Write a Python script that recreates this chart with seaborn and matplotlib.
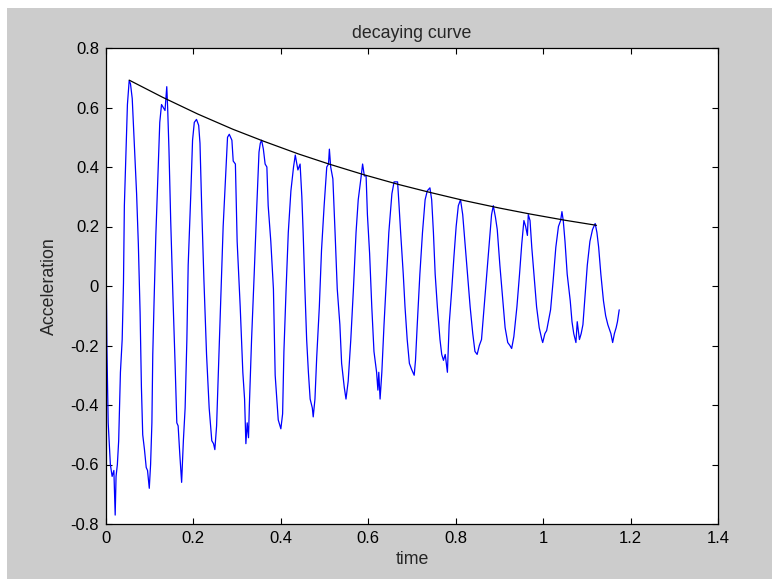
import matplotlib
matplotlib.use("Agg")
import matplotlib.pyplot as plt
from matplotlib.patches import Rectangle
import numpy as np
import pandas as pd
import seaborn as sns

# ---------------- data ----------------
sig_t = [
    0.000, 0.002, 0.005, 0.010, 0.014, 0.018, 0.021, 0.023, 0.026, 0.029, 0.033, 0.037, 0.040, 0.042, 0.046, 0.049, 0.053,
    0.056, 0.060, 0.065, 0.070, 0.074, 0.078, 0.081, 0.084, 0.088, 0.092, 0.095, 0.099,
    0.102, 0.105, 0.107, 0.110, 0.114, 0.119, 0.123, 0.127, 0.131, 0.135, 0.139, 0.141, 0.144, 0.148,
    0.153, 0.158, 0.162, 0.165, 0.169, 0.173,
    0.177, 0.181, 0.185, 0.188, 0.194, 0.198, 0.202, 0.207, 0.212, 0.215, 0.219, 0.224, 0.230, 0.236, 0.242, 0.246, 0.249,
    0.253, 0.257, 0.262, 0.268, 0.275, 0.278, 0.282, 0.288, 0.291, 0.296, 0.300, 0.307, 0.313, 0.317, 0.320, 0.323, 0.326, 0.328,
    0.333, 0.339, 0.345, 0.350, 0.353, 0.356, 0.360, 0.364, 0.368, 0.371, 0.377, 0.383, 0.387, 0.394, 0.400,
    0.404, 0.407, 0.412, 0.417, 0.423, 0.429, 0.433, 0.439, 0.444, 0.448, 0.451, 0.455, 0.459, 0.463, 0.467, 0.472, 0.474,
    0.478, 0.482, 0.488, 0.493, 0.499, 0.505, 0.509, 0.511, 0.514, 0.519, 0.524, 0.529, 0.535, 0.539, 0.545, 0.549,
    0.554, 0.560, 0.566, 0.572, 0.577, 0.583, 0.587, 0.591, 0.595, 0.598, 0.603, 0.608, 0.613, 0.619, 0.622, 0.624, 0.627,
    0.631, 0.636, 0.642, 0.647, 0.654, 0.659, 0.667, 0.670, 0.674, 0.680, 0.684, 0.689, 0.694, 0.699, 0.705,
    0.708, 0.712, 0.718, 0.724, 0.730, 0.735, 0.741, 0.745, 0.749, 0.753, 0.758, 0.764, 0.768, 0.772, 0.776, 0.781,
    0.785, 0.791, 0.796, 0.801, 0.806, 0.811, 0.816, 0.821, 0.827, 0.833, 0.839, 0.844, 0.849, 0.854, 0.859,
    0.865, 0.871, 0.877, 0.882, 0.886, 0.891, 0.895, 0.901, 0.908, 0.913, 0.919, 0.924, 0.928,
    0.933, 0.940, 0.946, 0.951, 0.956, 0.960, 0.964, 0.966, 0.970, 0.974, 0.979, 0.985, 0.991, 0.997, 0.999,
    1.004, 1.008, 1.017, 1.023, 1.029, 1.035, 1.040, 1.043, 1.046, 1.050, 1.055, 1.062, 1.066, 1.070, 1.075, 1.078, 1.083, 1.087, 1.091,
    1.096, 1.101, 1.107, 1.113, 1.119, 1.123, 1.127, 1.132, 1.138, 1.143, 1.148, 1.155, 1.159, 1.163, 1.167, 1.170, 1.174,
]
sig_acc = [
    0.13, -0.20, -0.46, -0.60, -0.64, -0.62, -0.77, -0.64, -0.60, -0.52, -0.29, -0.18, 0.01, 0.27, 0.46, 0.61, 0.69,
    0.68, 0.63, 0.47, 0.31, 0.14, -0.09, -0.34, -0.50, -0.55, -0.61, -0.62, -0.68,
    -0.60, -0.46, -0.23, -0.05, 0.17, 0.38, 0.55, 0.61, 0.60, 0.59, 0.67, 0.60, 0.46, 0.22,
    -0.03, -0.26, -0.46, -0.47, -0.57, -0.66,
    -0.52, -0.41, -0.18, 0.07, 0.31, 0.49, 0.55, 0.56, 0.54, 0.48, 0.26, 0.02, -0.23, -0.41, -0.52, -0.53, -0.55,
    -0.47, -0.29, -0.07, 0.20, 0.41, 0.50, 0.51, 0.49, 0.42, 0.41, 0.15, -0.07, -0.29, -0.38, -0.53, -0.46, -0.51, -0.40,
    -0.18, 0.04, 0.27, 0.45, 0.48, 0.49, 0.46, 0.41, 0.40, 0.27, 0.15, -0.01, -0.30, -0.45, -0.48,
    -0.43, -0.22, -0.01, 0.18, 0.32, 0.40, 0.44, 0.39, 0.41, 0.30, 0.18, -0.01, -0.18, -0.29, -0.38, -0.41, -0.44,
    -0.38, -0.24, -0.07, 0.12, 0.27, 0.40, 0.41, 0.46, 0.40, 0.36, 0.18, -0.01, -0.13, -0.26, -0.34, -0.38,
    -0.32, -0.18, -0.01, 0.18, 0.29, 0.36, 0.41, 0.37, 0.37, 0.24, 0.11, -0.07, -0.22, -0.29, -0.35, -0.29, -0.38,
    -0.29, -0.13, 0.04, 0.18, 0.31, 0.35, 0.35, 0.28, 0.18, 0.04, -0.07, -0.18, -0.26, -0.28, -0.30,
    -0.25, -0.13, 0.04, 0.18, 0.29, 0.32, 0.33, 0.29, 0.18, 0.04, -0.07, -0.18, -0.23, -0.25, -0.23, -0.29,
    -0.13, -0.01, 0.10, 0.20, 0.27, 0.29, 0.24, 0.15, 0.04, -0.07, -0.16, -0.22, -0.23, -0.20, -0.18,
    -0.07, 0.04, 0.15, 0.24, 0.27, 0.23, 0.19, 0.07, -0.05, -0.14, -0.19, -0.20, -0.21,
    -0.17, -0.07, 0.04, 0.14, 0.22, 0.20, 0.17, 0.24, 0.22, 0.13, 0.04, -0.07, -0.14, -0.18, -0.19,
    -0.16, -0.15, -0.08, 0.02, 0.13, 0.20, 0.22, 0.25, 0.22, 0.15, 0.04, -0.05, -0.12, -0.16, -0.19, -0.12, -0.18, -0.16, -0.13,
    -0.03, 0.07, 0.15, 0.19, 0.21, 0.18, 0.13, 0.04, -0.05, -0.10, -0.13, -0.16, -0.19, -0.16, -0.14, -0.12, -0.08,
]

env_t = [0.053, 0.13, 0.21, 0.29, 0.36, 0.44, 0.51, 0.59, 0.67, 0.74, 0.82, 0.90, 0.97, 1.05, 1.122]
env_acc = [0.692, 0.634, 0.578, 0.527, 0.487, 0.444, 0.410, 0.374, 0.341, 0.315, 0.287, 0.262, 0.242, 0.221, 0.204]

x_ticks = [0, 0.2, 0.4, 0.6, 0.8, 1.0, 1.2, 1.4]
x_labels = ["0", "0.2", "0.4", "0.6", "0.8", "1", "1.2", "1.4"]
y_ticks = [-0.8, -0.6, -0.4, -0.2, 0, 0.2, 0.4, 0.6, 0.8]
y_labels = ["-0.8", "-0.6", "-0.4", "-0.2", "0", "0.2", "0.4", "0.6", "0.8"]

assert len(sig_t) == len(sig_acc)
sig = pd.DataFrame({"time": sig_t, "Acceleration": sig_acc})
env = pd.DataFrame({"time": env_t, "Acceleration": env_acc})

# ---------------- figure ----------------
sns.set_style("ticks")
plt.rcParams["font.family"] = ["Liberation Sans", "DejaVu Sans"]

W, H = 772, 579
fig = plt.figure(figsize=(W / 100, H / 100), dpi=100, facecolor="white")
fig.patches.append(Rectangle((7 / W, 0), 1, 1 - 8 / H, transform=fig.transFigure,
                             facecolor="#cccccc", edgecolor="none", zorder=-10))
ax = fig.add_axes([106 / W, 55 / H, 612 / W, 476 / H])
ax.set_facecolor("white")

sns.lineplot(data=sig, x="time", y="Acceleration", sort=False, estimator=None,
             color="#0000ff", lw=0.9, ax=ax)
sns.lineplot(data=env, x="time", y="Acceleration", sort=False, estimator=None,
             color="black", lw=0.9, ax=ax)

ax.set_xlim(0, 1.4)
ax.set_ylim(-0.8, 0.8)
ax.set_xticks(x_ticks)
ax.set_xticklabels(x_labels)
ax.set_yticks(y_ticks)
ax.set_yticklabels(y_labels)
ax.tick_params(direction="in", top=True, right=True, length=4.5, width=0.8,
               labelsize=12, pad=5, colors="black")
for s in ax.spines.values():
    s.set_visible(True)
    s.set_color("black")
    s.set_linewidth(0.9)

ax.set_title("decaying curve", fontsize=12.8, pad=7)
ax.set_xlabel("time", fontsize=12.8, labelpad=4)
ax.set_ylabel("Acceleration", fontsize=12.8, labelpad=9)

fig.savefig("out.png", dpi=100, facecolor=fig.get_facecolor())
